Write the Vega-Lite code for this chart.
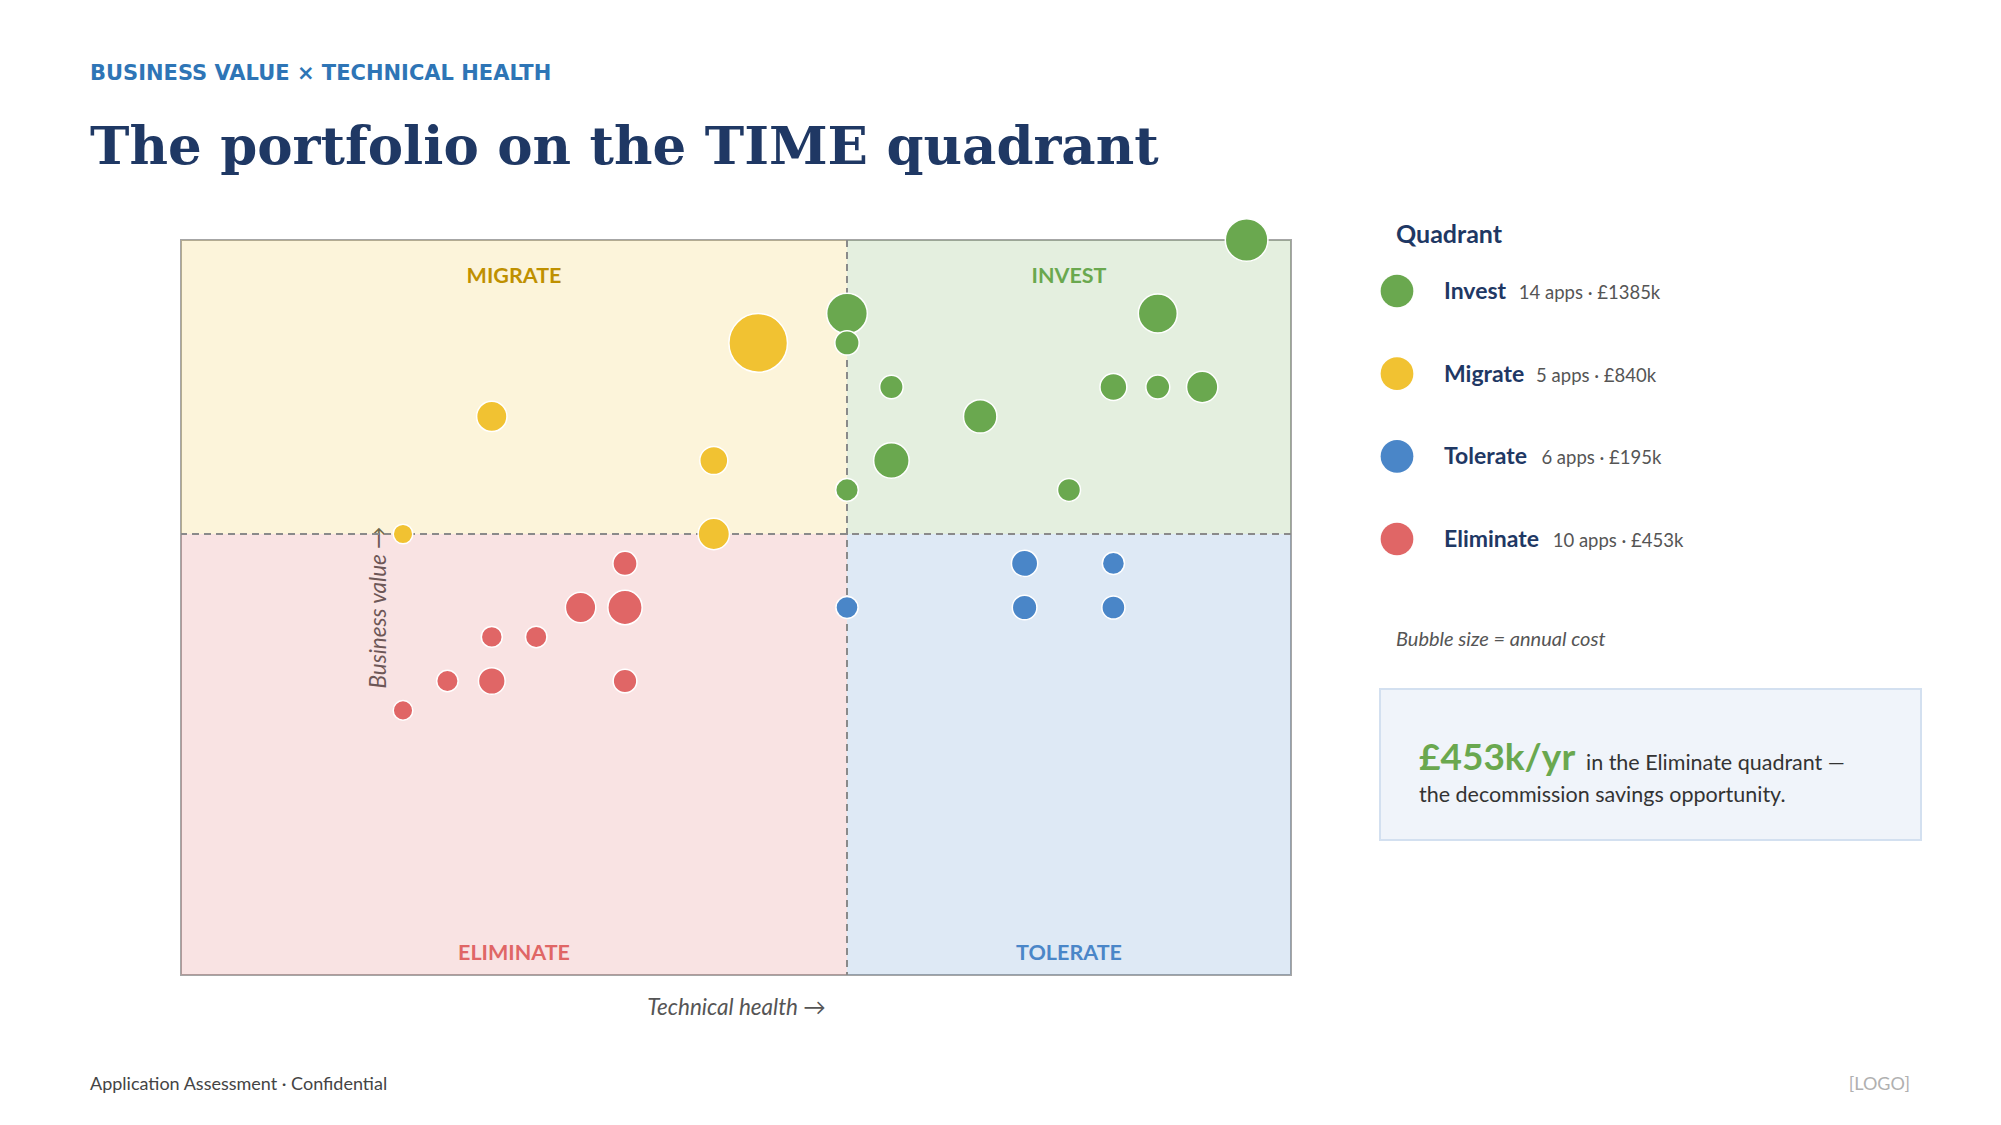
{
  "$schema": "https://vega.github.io/schema/vega-lite/v6.json",
  "background": "white",
  "padding": {"left": 89, "top": 62, "right": 80, "bottom": 30},
  "config": {
    "font": "Lato",
    "view": {"stroke": null},
    "text": {"font": "Lato"},
    "axis": {"titleFont": "Lato"}
  },
  "title": {
    "text": "BUSINESS VALUE × TECHNICAL HEALTH",
    "subtitle": "The portfolio on the TIME quadrant",
    "anchor": "start",
    "frame": "group",
    "dx": -91,
    "offset": 40,
    "font": "DejaVu Sans",
    "fontSize": 21,
    "fontWeight": "bold",
    "color": "#2e75b6",
    "subtitleFont": "DejaVu Serif",
    "subtitleFontSize": 53,
    "subtitleFontWeight": "bold",
    "subtitleColor": "#1f3864",
    "subtitlePadding": 38
  },
  "datasets": {
    "apps": [
      {"quadrant": "Invest", "tech": 3.0, "value": 4.5, "cost": 20},
      {"quadrant": "Invest", "tech": 4.4, "value": 4.5, "cost": 25},
      {"quadrant": "Invest", "tech": 4.8, "value": 5.0, "cost": 260},
      {"quadrant": "Invest", "tech": 3.0, "value": 4.5, "cost": 231},
      {"quadrant": "Invest", "tech": 3.0, "value": 4.3, "cost": 41},
      {"quadrant": "Invest", "tech": 3.2, "value": 4.0, "cost": 34},
      {"quadrant": "Invest", "tech": 4.2, "value": 4.0, "cost": 65},
      {"quadrant": "Invest", "tech": 4.4, "value": 4.0, "cost": 38},
      {"quadrant": "Invest", "tech": 4.6, "value": 4.0, "cost": 111},
      {"quadrant": "Invest", "tech": 4.4, "value": 4.5, "cost": 207},
      {"quadrant": "Invest", "tech": 3.6, "value": 3.8, "cost": 135},
      {"quadrant": "Invest", "tech": 3.2, "value": 3.5, "cost": 161},
      {"quadrant": "Invest", "tech": 3.0, "value": 3.3, "cost": 27},
      {"quadrant": "Invest", "tech": 4.0, "value": 3.3, "cost": 30},
      {"quadrant": "Migrate", "tech": 2.6, "value": 4.3, "cost": 549},
      {"quadrant": "Migrate", "tech": 1.4, "value": 3.8, "cost": 100},
      {"quadrant": "Migrate", "tech": 2.4, "value": 3.5, "cost": 76},
      {"quadrant": "Migrate", "tech": 1.0, "value": 3.0, "cost": 4},
      {"quadrant": "Migrate", "tech": 2.4, "value": 3.0, "cost": 111},
      {"quadrant": "Tolerate", "tech": 3.8, "value": 2.8, "cost": 15},
      {"quadrant": "Tolerate", "tech": 3.8, "value": 2.8, "cost": 59},
      {"quadrant": "Tolerate", "tech": 4.2, "value": 2.8, "cost": 23},
      {"quadrant": "Tolerate", "tech": 3.0, "value": 2.5, "cost": 23},
      {"quadrant": "Tolerate", "tech": 3.8, "value": 2.5, "cost": 44},
      {"quadrant": "Tolerate", "tech": 4.2, "value": 2.5, "cost": 31},
      {"quadrant": "Eliminate", "tech": 2.0, "value": 2.5, "cost": 13},
      {"quadrant": "Eliminate", "tech": 2.0, "value": 2.8, "cost": 40},
      {"quadrant": "Eliminate", "tech": 1.8, "value": 2.5, "cost": 101},
      {"quadrant": "Eliminate", "tech": 2.0, "value": 2.5, "cost": 146},
      {"quadrant": "Eliminate", "tech": 1.4, "value": 2.3, "cost": 14},
      {"quadrant": "Eliminate", "tech": 1.6, "value": 2.3, "cost": 18},
      {"quadrant": "Eliminate", "tech": 1.2, "value": 2.0, "cost": 18},
      {"quadrant": "Eliminate", "tech": 1.4, "value": 2.0, "cost": 63},
      {"quadrant": "Eliminate", "tech": 2.0, "value": 2.0, "cost": 36},
      {"quadrant": "Eliminate", "tech": 1.0, "value": 1.8, "cost": 4}
    ],
    "quadrants": [
      {"quadrant": "Migrate", "label": "MIGRATE", "x0": 0, "x1": 3, "y0": 3, "y1": 5, "lx": 1.5, "row": "top"},
      {"quadrant": "Invest", "label": "INVEST", "x0": 3, "x1": 5, "y0": 3, "y1": 5, "lx": 4, "row": "top"},
      {"quadrant": "Eliminate", "label": "ELIMINATE", "x0": 0, "x1": 3, "y0": 0, "y1": 3, "lx": 1.5, "row": "bottom"},
      {"quadrant": "Tolerate", "label": "TOLERATE", "x0": 3, "x1": 5, "y0": 0, "y1": 3, "lx": 4, "row": "bottom"}
    ]
  },
  "hconcat": [
    {
      "width": 1110,
      "height": 735,
      "view": {"stroke": "#a6a6a6", "strokeWidth": 2},
      "layer": [
        {
          "data": {"name": "quadrants"},
          "mark": {"type": "rect", "opacity": 0.18},
          "encoding": {
            "x": {
              "field": "x0", "type": "quantitative",
              "scale": {"domain": [0, 5], "nice": false, "zero": false},
              "axis": {
                "title": "Technical health →", "domain": false, "ticks": false, "labels": false, "grid": false,
                "titleFontStyle": "italic", "titleFontWeight": "normal", "titleFontSize": 22.5, "titleColor": "#555555",
                "titleX": 555, "titleY": 32, "titleAlign": "center", "titleBaseline": "middle"
              }
            },
            "x2": {"field": "x1"},
            "y": {
              "field": "y0", "type": "quantitative",
              "scale": {"domain": [0, 5], "nice": false, "zero": false},
              "axis": {
                "title": "Business value →", "domain": false, "ticks": false, "labels": false, "grid": false,
                "titleFontStyle": "italic", "titleFontWeight": "normal", "titleFontSize": 22.5, "titleColor": "#555555",
                "titleX": 197, "titleY": 367, "titleAngle": 270, "titleAlign": "center", "titleBaseline": "middle"
              }
            },
            "y2": {"field": "y1"},
            "color": {
              "field": "quadrant", "type": "nominal",
              "scale": {"domain": ["Invest", "Migrate", "Tolerate", "Eliminate"], "range": ["#6aa84f", "#f1c232", "#4a86c8", "#e06666"]},
              "legend": null
            }
          }
        },
        {
          "data": {"values": [{}]},
          "mark": {"type": "rule", "color": "#8a8a8a", "strokeWidth": 2, "strokeDash": [7, 5]},
          "encoding": {"x": {"datum": 3}}
        },
        {
          "data": {"values": [{}]},
          "mark": {"type": "rule", "color": "#8a8a8a", "strokeWidth": 2, "strokeDash": [7, 5]},
          "encoding": {"y": {"datum": 3}}
        },
        {
          "data": {"name": "quadrants"},
          "transform": [{"filter": {"field": "row", "equal": "top"}}],
          "mark": {"type": "text", "align": "center", "baseline": "alphabetic", "dy": 43, "fontSize": 21.5, "fontWeight": "bold"},
          "encoding": {
            "x": {"field": "lx", "type": "quantitative"},
            "y": {"field": "y1", "type": "quantitative"},
            "text": {"field": "label"},
            "fill": {
              "field": "quadrant", "type": "nominal",
              "scale": {"domain": ["Invest", "Migrate", "Tolerate", "Eliminate"], "range": ["#6aa84f", "#bf9000", "#4a86c8", "#e06666"]},
              "legend": null
            }
          }
        },
        {
          "data": {"name": "quadrants"},
          "transform": [{"filter": {"field": "row", "equal": "bottom"}}],
          "mark": {"type": "text", "align": "center", "baseline": "alphabetic", "dy": -15, "fontSize": 21.5, "fontWeight": "bold"},
          "encoding": {
            "x": {"field": "lx", "type": "quantitative"},
            "y": {"field": "y0", "type": "quantitative"},
            "text": {"field": "label"},
            "fill": {"field": "quadrant", "type": "nominal", "legend": null}
          }
        },
        {
          "data": {"name": "apps"},
          "mark": {"type": "circle", "opacity": 1, "stroke": "white", "strokeWidth": 1.5},
          "encoding": {
            "x": {"field": "tech", "type": "quantitative"},
            "y": {"field": "value", "type": "quantitative"},
            "size": {"field": "cost", "type": "quantitative", "scale": {"domain": [0, 600], "range": [360, 3720]}, "legend": null},
            "color": {"field": "quadrant", "type": "nominal", "legend": null}
          }
        },
        {
          "data": {"values": [{"left": "Application Assessment  ·  Confidential", "right": "[LOGO]"}]},
          "mark": {"type": "text", "align": "left", "baseline": "middle", "fontSize": 18, "color": "#444444"},
          "encoding": {"x": {"value": -91}, "y": {"value": 845}, "text": {"field": "left"}}
        },
        {
          "data": {"values": [{"left": "Application Assessment  ·  Confidential", "right": "[LOGO]"}]},
          "mark": {"type": "text", "align": "right", "baseline": "middle", "fontSize": 18, "color": "#b0b0b0"},
          "encoding": {"x": {"value": 1729}, "y": {"value": 845}, "text": {"field": "right"}}
        }
      ]
    },
    {
      "vconcat": [
        {
          "width": 541,
          "height": 350,
          "title": {
            "text": "Quadrant", "anchor": "start", "frame": "group", "dx": 16, "offset": -28,
            "baseline": "alphabetic", "font": "Lato", "fontSize": 25, "fontWeight": "bold", "color": "#1f3864"
          },
          "data": {"name": "apps"},
          "transform": [
            {"aggregate": [{"op": "count", "as": "n"}, {"op": "sum", "field": "cost", "as": "total"}], "groupby": ["quadrant"]},
            {"calculate": "datum.n + ' apps · £' + datum.total + 'k'", "as": "detail"}
          ],
          "encoding": {
            "y": {
              "field": "quadrant", "type": "nominal",
              "scale": {"type": "point", "domain": ["Invest", "Migrate", "Tolerate", "Eliminate"], "padding": 0.617},
              "axis": null
            }
          },
          "layer": [
            {
              "mark": {"type": "circle", "size": 1069, "opacity": 1},
              "encoding": {
                "x": {"value": 17},
                "color": {
                  "field": "quadrant", "type": "nominal",
                  "scale": {"domain": ["Invest", "Migrate", "Tolerate", "Eliminate"], "range": ["#6aa84f", "#f1c232", "#4a86c8", "#e06666"]},
                  "legend": null
                }
              }
            },
            {
              "mark": {"type": "text", "align": "left", "baseline": "alphabetic", "dy": 8, "fontSize": 23, "fontWeight": "bold", "color": "#1f3864"},
              "encoding": {"x": {"value": 64}, "text": {"field": "quadrant"}}
            },
            {
              "mark": {
                "type": "text", "align": "left", "baseline": "alphabetic", "dy": 8,
                "dx": {"expr": "length(datum.quadrant) * 11.3 + 7 + (test(/M/, datum.quadrant) ? 6 : 0)"},
                "fontSize": 18.5, "color": "#555555"
              },
              "encoding": {"x": {"value": 64}, "text": {"field": "detail"}}
            }
          ]
        },
        {
          "width": 541,
          "height": 151,
          "view": {"fill": "#f0f4fa", "stroke": "#d3e0f0", "strokeWidth": 2},
          "title": {
            "text": "Bubble size = annual cost", "anchor": "start", "frame": "group", "dx": 16, "offset": 23.5,
            "baseline": "alphabetic", "font": "Lato", "fontSize": 20, "fontStyle": "italic", "fontWeight": "normal", "color": "#555555"
          },
          "data": {"name": "apps"},
          "transform": [
            {"filter": {"field": "quadrant", "equal": "Eliminate"}},
            {"aggregate": [{"op": "sum", "field": "cost", "as": "total"}]},
            {"calculate": "'£' + datum.total + 'k/yr'", "as": "headline"}
          ],
          "layer": [
            {
              "mark": {"type": "text", "align": "left", "baseline": "alphabetic", "fontSize": 37, "fontWeight": "bold", "color": "#6aa84f"},
              "encoding": {"x": {"value": 39}, "y": {"value": 81}, "text": {"field": "headline"}}
            },
            {
              "mark": {"type": "text", "align": "left", "baseline": "alphabetic", "fontSize": 21.5, "color": "#333333"},
              "encoding": {"x": {"value": 206}, "y": {"value": 81}, "text": {"value": "in the Eliminate quadrant —"}}
            },
            {
              "mark": {"type": "text", "align": "left", "baseline": "alphabetic", "fontSize": 21.5, "color": "#333333"},
              "encoding": {"x": {"value": 39}, "y": {"value": 113}, "text": {"value": "the decommission savings opportunity."}}
            }
          ]
        }
      ],
      "spacing": 99,
      "bounds": "flush"
    }
  ],
  "spacing": 89,
  "bounds": "flush"
}
